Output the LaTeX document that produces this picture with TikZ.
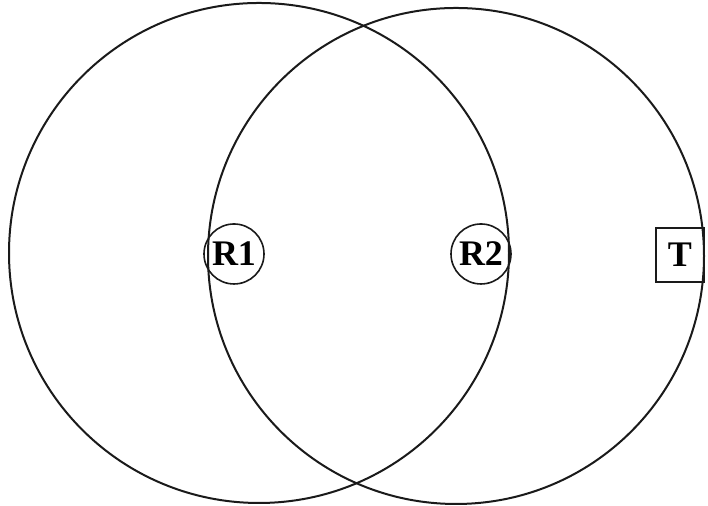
\documentclass[tikz,border=0pt]{standalone}
\usepackage{fontspec}
\setmainfont{Liberation Serif}
\usetikzlibrary{positioning}
\definecolor{rcink}{HTML}{1A1A1A}
\tikzset{
  rc range/.style={draw=rcink, line width=1pt, circle, inner sep=0pt},
  rc relay/.style={draw=rcink, line width=0.8pt, circle, inner sep=0pt,
    minimum size=30pt, font=\fontsize{18}{20}\selectfont\bfseries},
  rc target/.style={draw=rcink, line width=0.8pt, rectangle, inner sep=0pt,
    minimum width=24pt, minimum height=27pt, font=\fontsize{18}{20}\selectfont\bfseries}
}
\begin{document}
\begin{tikzpicture}[x=0.5pt, y=0.5pt]
  \useasboundingbox (0,0) rectangle (708,506);
  \node[rc range, minimum size=250pt] (range1) at (259,253) {};
  \node[rc range, minimum size=248pt] (range2) at (456,250) {};
  \node[rc relay] (r1) at (234,252) {R1};
  \node[rc relay] (r2) at (481,252) {R2};
  \node[rc target] (t) at (680,251) {T};
\end{tikzpicture}
\end{document}
